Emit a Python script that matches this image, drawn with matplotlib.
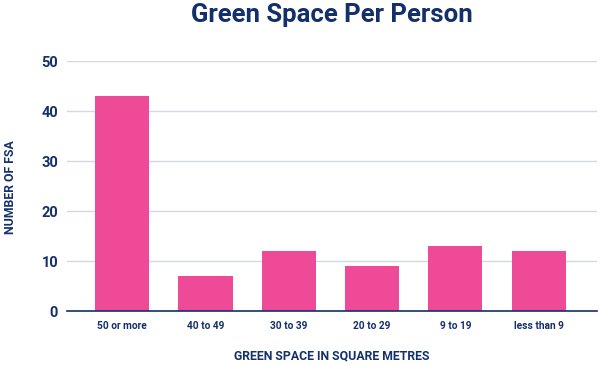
import matplotlib.pyplot as plt

# data
categories = ["50 or more", "40 to 49", "30 to 39", "20 to 29", "9 to 19", "less than 9"]
counts = [43, 7, 12, 9, 13, 12]
yticks = [0, 10, 20, 30, 40, 50]

navy = "#13306a"
pink = "#ef4a98"

plt.rcParams["font.family"] = ["Roboto", "DejaVu Sans"]

fig = plt.figure(figsize=(6, 3.66), dpi=100)
ax = fig.add_axes([0.112, 0.150, 0.883, 0.683])

x = range(len(categories))
ax.bar(x, counts, width=0.65, color=pink, zorder=3)

ax.set_xlim(-0.66, 5.70)
ax.set_ylim(0, 50)
ax.set_yticks(yticks)
ax.set_xticks(list(x))
ax.set_xticklabels(categories, fontsize=7.3, fontweight="bold", color=navy)
ax.set_yticklabels([str(t) for t in yticks], fontsize=10.5, fontweight="bold", color=navy)
ax.tick_params(axis="both", length=0)
ax.tick_params(axis="x", pad=7)
ax.tick_params(axis="y", pad=6.5)

ax.grid(axis="y", color="#d3d9e4", linewidth=1, zorder=0)
for s in ["top", "right", "left"]:
    ax.spines[s].set_visible(False)
ax.spines["bottom"].set_color(navy)
ax.spines["bottom"].set_linewidth(1.2)
ax.spines["bottom"].set_zorder(4)

fig.text(0.553, 0.027, "GREEN SPACE IN SQUARE METRES", ha="center", va="center",
         fontsize=8.8, fontweight="bold", color=navy)
fig.text(0.018, 0.49, "NUMBER OF FSA", rotation=90, ha="center", va="center",
         fontsize=8.8, fontweight="bold", color=navy)
fig.text(0.553, 0.958, "Green Space Per Person", ha="center", va="center",
         fontsize=18.5, fontweight="bold", color=navy)

fig.savefig("out.png", dpi=100)
